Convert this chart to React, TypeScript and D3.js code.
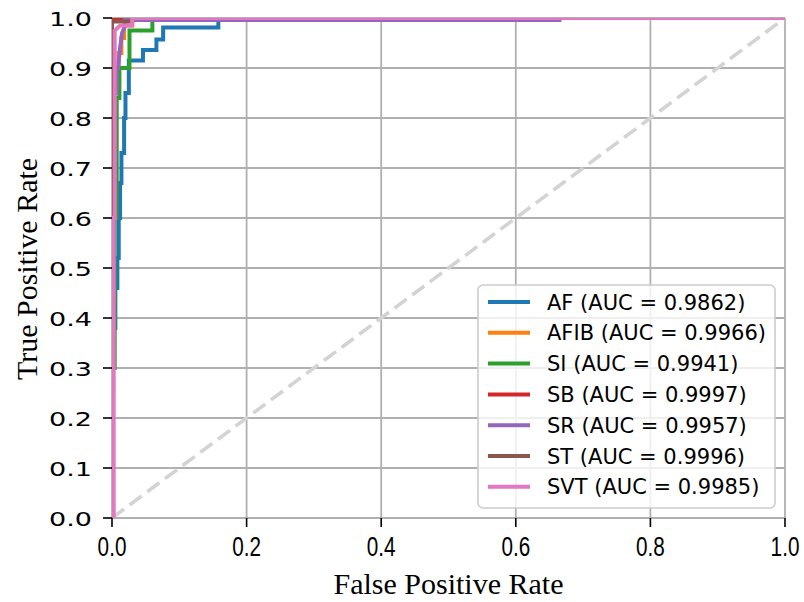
import React from "react";
import * as d3 from "d3";

// ROC curves per rhythm class: [false positive rate, true positive rate]
const AF: [number, number][] = [
  [0, 0], [0, 0.38], [0.005, 0.38], [0.005, 0.46], [0.008, 0.46], [0.008, 0.52],
  [0.01, 0.52], [0.01, 0.6], [0.012, 0.6], [0.012, 0.67], [0.014, 0.67], [0.014, 0.73],
  [0.018, 0.73], [0.018, 0.8], [0.02, 0.8], [0.02, 0.85], [0.025, 0.85], [0.025, 0.915],
  [0.046, 0.915], [0.046, 0.936], [0.066, 0.936], [0.066, 0.957], [0.076, 0.957],
  [0.076, 0.981], [0.158, 0.981], [0.158, 1], [1, 1],
];
const AFIB: [number, number][] = [
  [0, 0], [0, 0.5], [0.003, 0.5], [0.003, 0.85], [0.006, 0.85], [0.006, 0.89],
  [0.01, 0.89], [0.01, 0.93], [0.014, 0.93], [0.014, 0.96], [0.018, 0.96],
  [0.018, 0.985], [0.03, 0.985], [0.03, 1], [1, 1],
];
const SI: [number, number][] = [
  [0, 0], [0, 0.3], [0.004, 0.3], [0.004, 0.6], [0.007, 0.6], [0.007, 0.84],
  [0.011, 0.84], [0.011, 0.9], [0.026, 0.9], [0.026, 0.975], [0.06, 0.975],
  [0.06, 1], [1, 1],
];
const SB: [number, number][] = [
  [0, 0], [0, 1], [1, 1],
];
const SR: [number, number][] = [
  [0, 0], [0, 0.6], [0.004, 0.6], [0.004, 0.85], [0.007, 0.85], [0.007, 0.9],
  [0.009, 0.9], [0.012, 0.94], [0.015, 0.97], [0.019, 0.983], [0.019, 0.996],
  [0.665, 0.996], [0.665, 1], [1, 1],
];
const ST: [number, number][] = [
  [0, 0], [0, 0.993], [0.03, 0.993], [0.03, 1], [1, 1],
];
const SVT: [number, number][] = [
  [0, 0], [0.0025, 0], [0.0025, 0.6], [0.004, 0.6], [0.004, 0.975], [0.012, 0.985],
  [0.03, 0.985], [0.03, 1], [1, 1],
];

const CLASS_NAMES = ["AF", "AFIB", "SI", "SB", "SR", "ST", "SVT"];
const AUC_VALUES = ["0.9862", "0.9966", "0.9941", "0.9997", "0.9957", "0.9996", "0.9985"];
const CURVES = [AF, AFIB, SI, SB, SR, ST, SVT];
const COLORS = ["#1f77b4", "#ff7f0e", "#2ca02c", "#d62728", "#9467bd", "#8c564b", "#e377c2"];

const X_TICKS = [0, 0.2, 0.4, 0.6, 0.8, 1.0];
const Y_TICKS = [0, 0.1, 0.2, 0.3, 0.4, 0.5, 0.6, 0.7, 0.8, 0.9, 1.0];

const W = 804;
const H = 602;
const M = { left: 112, right: 19, top: 18, bottom: 84 };

export default function App() {
  const x = d3.scaleLinear().domain([0, 1]).range([M.left, W - M.right]);
  const y = d3.scaleLinear().domain([0, 1]).range([H - M.bottom, M.top]);
  const line = d3
    .line<[number, number]>()
    .x((d) => x(d[0]))
    .y((d) => y(d[1]));

  const legend = { x0: 478, y0: 285, w: 297, h: 223, row0: 302, step: 30.8 };

  return (
    <svg
      width={W}
      height={H}
      style={{ position: "absolute", left: 0, top: 0, background: "#fff" }}
    >
      <defs>
        <clipPath id="plot-area">
          <rect x={x(0)} y={y(1)} width={x(1) - x(0)} height={y(0) - y(1)} />
        </clipPath>
      </defs>

      {/* grid */}
      <g stroke="#b0b0b0" strokeWidth={1.8}>
        {X_TICKS.map((t) => (
          <line key={"gx" + t} x1={x(t)} x2={x(t)} y1={y(0)} y2={y(1)} />
        ))}
        {Y_TICKS.map((t) => (
          <line key={"gy" + t} x1={x(0)} x2={x(1)} y1={y(t)} y2={y(t)} />
        ))}
      </g>

      <g clipPath="url(#plot-area)">
        {/* chance diagonal */}
        <line
          x1={x(0)}
          y1={y(0)}
          x2={x(1)}
          y2={y(1)}
          stroke="#d3d3d3"
          strokeWidth={3.6}
          strokeDasharray="15 7"
        />

        {/* ROC curves */}
        <g fill="none" strokeWidth={4} strokeLinejoin="miter" strokeLinecap="butt">
          {CURVES.map((c, i) => (
            <path key={CLASS_NAMES[i]} d={line(c) ?? ""} stroke={COLORS[i]} />
          ))}
        </g>
      </g>

      {/* ticks */}
      <g stroke="#000" strokeWidth={1.6}>
        {X_TICKS.map((t) => (
          <line key={"tx" + t} x1={x(t)} x2={x(t)} y1={y(0)} y2={y(0) + 9} />
        ))}
        {Y_TICKS.map((t) => (
          <line key={"ty" + t} x1={x(0) - 9} x2={x(0)} y1={y(t)} y2={y(t)} />
        ))}
      </g>

      {/* tick labels */}
      <g fontFamily="'Liberation Sans', Arial, sans-serif" fontSize={28} fill="#000">
        {X_TICKS.map((t) => (
          <text
            key={"lx" + t}
            textAnchor="middle"
            transform={`translate(${x(t)},${y(0) + 38}) scale(0.74,1)`}
          >
            {t.toFixed(1)}
          </text>
        ))}
      </g>
      <g fontFamily="'DejaVu Sans', sans-serif" fontSize={20} fill="#000">
        {Y_TICKS.map((t) => (
          <text
            key={"ly" + t}
            textAnchor="end"
            transform={`translate(${x(0) - 20},${y(t) + 7.5}) scale(1.35,1)`}
          >
            {t.toFixed(1)}
          </text>
        ))}
      </g>

      {/* axis titles */}
      <text
        x={(x(0) + x(1)) / 2}
        y={594}
        textAnchor="middle"
        fontFamily="'Liberation Serif', 'Times New Roman', serif"
        fontSize={30}
      >
        False Positive Rate
      </text>
      <text
        transform={`translate(37,${(y(0) + y(1)) / 2 + 1}) rotate(-90)`}
        textAnchor="middle"
        fontFamily="'Liberation Serif', 'Times New Roman', serif"
        fontSize={30}
      >
        True Positive Rate
      </text>

      {/* legend */}
      <rect
        x={legend.x0}
        y={legend.y0}
        width={legend.w}
        height={legend.h}
        rx={5}
        fill="#fff"
        fillOpacity={0.8}
        stroke="#cccccc"
        strokeWidth={1.6}
      />
      {CLASS_NAMES.map((name, i) => {
        const cy = legend.row0 + i * legend.step;
        return (
          <g key={"lg" + name}>
            <line x1={488} x2={530} y1={cy} y2={cy} stroke={COLORS[i]} strokeWidth={4} />
            <text
              x={547}
              y={cy + 7.5}
              fontFamily="'DejaVu Sans', sans-serif"
              fontSize={21}
              fill="#000"
            >
              {`${name} (AUC = ${AUC_VALUES[i]})`}
            </text>
          </g>
        );
      })}
    </svg>
  );
}
